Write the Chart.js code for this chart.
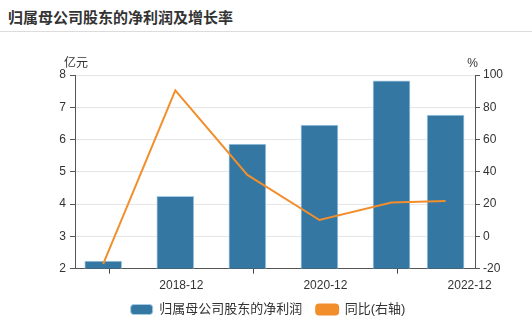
<!DOCTYPE html>
<html>
<head>
<meta charset="utf-8">
<script src="https://cdn.jsdelivr.net/npm/chart.js@4.4.1/dist/chart.umd.min.js"></script>
<style>
  body { margin: 0; background: #fff; font-family: "Liberation Sans", "Noto Sans CJK SC", sans-serif; }
  #title { height: 32px; border-bottom: 1px solid #dcdcdc; box-sizing: border-box; padding: 6px 0 0 8px;
           font-size: 15px; font-weight: bold; color: #333; }
  #wrap { position: relative; width: 532px; height: 298px; }
</style>
</head>
<body>
<div id="title">归属母公司股东的净利润及增长率</div>
<div id="wrap"><canvas id="chart"></canvas></div>
<script>
// report dates (year-month)
const periods = ["2017-12", "2018-12", "2019-12", "2020-12", "2021-12", "2022-09"];
// 亿元
const profit = [2.23, 4.24, 5.86, 6.45, 7.82, 6.76];
// 同比 %
const growth = [-17.1, 90.5, 38.1, 10.1, 21.0, 21.9];
const tickLabels = ["2018-12", "2020-12", "2022-12"];

const FONT = "'Liberation Sans', 'Noto Sans CJK SC', sans-serif";

function toMonth(s) {
    const [y, m] = s.split("-").map(Number);
    return y * 12 + (m - 1);
}
function fromMonth(v) {
    v = Math.round(v) - 1;
    const y = Math.floor(v / 12);
    const m = v - y * 12 + 1;
    return y + "-" + String(m).padStart(2, "0");
}

const xs = periods.map(toMonth);
// ticks sit at the end of the month
const tickVals = tickLabels.map(t => toMonth(t) + 1);

const axisTitles = {
    id: "axisTitles",
    afterDraw(chart) {
        const c = chart.ctx;
        const a = chart.chartArea;
        c.save();
        c.fillStyle = "#333";
        c.font = "12px " + FONT;
        c.textBaseline = "alphabetic";
        c.textAlign = "left";
        c.fillText("亿元", a.left - 11, a.top - 8);
        c.textAlign = "right";
        c.fillText("%", a.right + 3, a.top - 8);
        c.restore();
    }
};

new Chart(document.getElementById("chart"), {
    type: "bar",
    data: {
        datasets: [{
            label: "归属母公司股东的净利润",
            data: xs.map((x, i) => ({ x, y: profit[i] })),
            backgroundColor: "#3577a3",
            borderColor: "#a6cbe2",
            borderWidth: 1,
            barThickness: 37,
            yAxisID: "y",
            order: 1
        }, {
            type: "line",
            label: "同比(右轴)",
            data: xs.map((x, i) => ({ x, y: growth[i] })),
            borderColor: "#f28e2b",
            backgroundColor: "#f28e2b",
            borderWidth: 2,
            pointRadius: 0,
            tension: 0,
            yAxisID: "y1",
            order: 0
        }]
    },
    options: {
        responsive: true,
        maintainAspectRatio: false,
        animation: false,
        layout: { padding: { top: 43, left: 4, right: 0, bottom: 4 } },
        plugins: {
            legend: {
                position: "bottom",
                labels: {
                    sort: (a, b) => a.datasetIndex - b.datasetIndex,
                    boxWidth: 22,
                    boxHeight: 10,
                    useBorderRadius: true,
                    borderRadius: 3,
                    color: "#333",
                    padding: 14,
                    font: { size: 13, family: FONT }
                }
            },
            tooltip: { enabled: false }
        },
        scales: {
            x: {
                type: "linear",
                offset: false,
                min: xs[0] - 4.7,
                max: xs[0] + 61.9,
                afterBuildTicks: s => { s.ticks = tickVals.map(v => ({ value: v })); },
                afterFit: s => { s.height = s.height - 9; },
                grid: { drawOnChartArea: false, drawTicks: true, tickLength: 5, color: "#444" },
                border: { color: "#555" },
                ticks: {
                    color: "#333",
                    font: { size: 12, family: FONT },
                    maxRotation: 0,
                    padding: 5,
                    callback: v => fromMonth(v)
                }
            },
            y: {
                position: "left",
                min: 2,
                max: 8,
                ticks: { stepSize: 1, color: "#333", font: { size: 12, family: FONT }, padding: 4 },
                grid: { color: "#e6e6e6", tickLength: 5, tickColor: "#555" },
                border: { color: "#555" },
                afterFit: s => { s.width = 71; }
            },
            y1: {
                position: "right",
                min: -20,
                max: 100,
                ticks: { stepSize: 20, color: "#333", font: { size: 12, family: FONT }, padding: 3 },
                grid: { drawOnChartArea: false, tickLength: 5, color: "#555" },
                border: { color: "#555" },
                afterFit: s => { s.width = 57; }
            }
        }
    },
    plugins: [axisTitles]
});
</script>
</body>
</html>
